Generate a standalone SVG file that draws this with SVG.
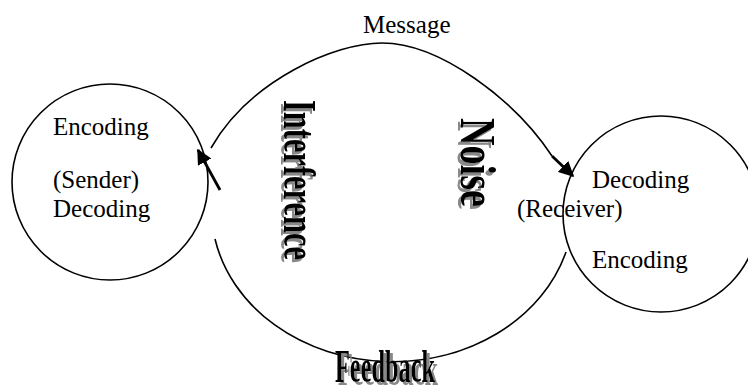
<svg xmlns="http://www.w3.org/2000/svg" width="748" height="388" viewBox="0 0 748 388">
<defs>
<style>
.ring{fill:none;stroke:#000;stroke-width:1.6}
.lbl{font-family:"Liberation Serif","Times New Roman",serif;font-size:25px;fill:#000}
.art{font-family:"Liberation Serif","Times New Roman",serif;font-weight:bold;fill:#000;filter:url(#shadow)}
.link{fill:none;stroke:#000;stroke-width:1.6}
.arr{fill:none;stroke:#000;stroke-width:2.8}
</style>
<filter id="shadow" x="-20%" y="-20%" width="140%" height="140%">
<feOffset in="SourceAlpha" dx="3" dy="3" result="off"/>
<feFlood flood-color="#888"/>
<feComposite in2="off" operator="in" result="sh"/>
<feMerge><feMergeNode in="sh"/><feMergeNode in="SourceGraphic"/></feMerge>
</filter>
<marker id="ah" viewBox="0 0 10 10" refX="9" refY="5" markerWidth="5.5" markerHeight="5.5" markerUnits="strokeWidth" orient="auto">
<path d="M0,0 L10,5 L0,10 Z" fill="#000"/>
</marker>
</defs>
<rect width="748" height="388" fill="#fff"/>

<g id="sender">
<circle class="ring" cx="110" cy="182" r="98"/>
<text class="lbl" x="53" y="135">Encoding</text>
<text class="lbl" x="53" y="188">(Sender)</text>
<text class="lbl" x="53" y="217">Decoding</text>
</g>

<g id="receiver">
<circle class="ring" cx="661" cy="214" r="98"/>
<text class="lbl" x="592" y="188">Decoding</text>
<text class="lbl" x="517" y="217">(Receiver)</text>
<text class="lbl" x="592" y="268">Encoding</text>
</g>

<g id="connectors">
<path class="link" d="M211,148 C250,80 335,43 382,43 C440,43 515,100 552,156"/>
<line class="arr" x1="552" y1="156" x2="573" y2="176" marker-end="url(#ah)"/>
<path class="link" d="M215,239 A181,153 0 0 0 566,252"/>
<line class="arr" x1="220" y1="190" x2="198" y2="150" marker-end="url(#ah)"/>
</g>

<g id="message-label">
<text class="lbl" x="363" y="33">Message</text>
</g>

<g id="interference">
<text class="art" font-size="46" transform="translate(284,100) rotate(90)" x="0" y="0" textLength="160" lengthAdjust="spacingAndGlyphs">Interference</text>
</g>

<g id="noise">
<text class="art" font-size="50" transform="translate(461,118) rotate(90)" x="0" y="0" textLength="89" lengthAdjust="spacingAndGlyphs">Noise</text>
</g>

<g id="feedback">
<text class="art" font-size="46" x="335" y="382" textLength="100" lengthAdjust="spacingAndGlyphs">Feedback</text>
</g>
</svg>
